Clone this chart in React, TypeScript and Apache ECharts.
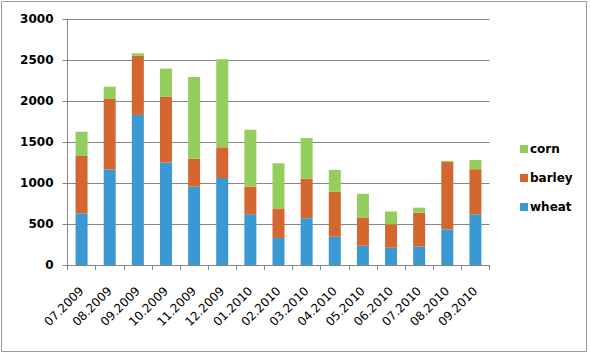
import React, { useEffect, useRef } from "react";
import * as echarts from "echarts";

const categories = [
  "07.2009", "08.2009", "09.2009", "10.2009", "11.2009", "12.2009",
  "01.2010", "02.2010", "03.2010", "04.2010", "05.2010", "06.2010",
  "07.2010", "08.2010", "09.2010",
];
const wheat = [630, 1165, 1830, 1250, 955, 1060, 620, 330, 570, 345, 235, 210, 225, 435, 618];
const barley = [700, 860, 720, 800, 340, 375, 335, 360, 485, 550, 345, 285, 413, 823, 550];
const corn = [295, 150, 32, 345, 997, 1073, 695, 550, 493, 265, 288, 158, 61, 12, 113];
const yTicks = { min: 0, max: 3000, interval: 500 };

const font = "'DejaVu Sans', Verdana, sans-serif";

export default function App() {
  const ref = useRef<HTMLDivElement>(null);
  useEffect(() => {
    if (!ref.current) return;
    const chart = echarts.init(ref.current, undefined, { renderer: "svg" });
    const seriesDef = [
      { name: "wheat", data: wheat, color: "#3A98D3" },
      { name: "barley", data: barley, color: "#D3672F" },
      { name: "corn", data: corn, color: "#93CD5B" },
    ];
    chart.setOption({
      animation: false,
      backgroundColor: "#ffffff",
      graphic: [
        {
          type: "rect",
          shape: { x: 1.5, y: 1.5, width: 585, height: 350 },
          style: { fill: "none", stroke: "#9a9a9a", lineWidth: 1 },
        },
      ],
      grid: { left: 67.5, right: 100.5, top: 19, bottom: 91 },
      legend: {
        data: ["corn", "barley", "wheat"],
        orient: "vertical",
        left: 515,
        top: 138,
        itemWidth: 8,
        itemHeight: 8,
        itemGap: 17,
        icon: "rect",
        textStyle: { fontFamily: font, fontWeight: "bold", fontSize: 12, color: "#000", padding: [0, 0, 0, -3] },
      },
      xAxis: {
        type: "category",
        data: categories,
        axisLine: { lineStyle: { color: "#868686" } },
        axisTick: { show: true, length: 5, lineStyle: { color: "#868686" } },
        axisLabel: {
          rotate: 45,
          interval: 0,
          fontFamily: font,
          fontSize: 12,
          color: "#000",
          margin: 24,
        },
      },
      yAxis: {
        type: "value",
        min: yTicks.min,
        max: yTicks.max,
        interval: yTicks.interval,
        axisLine: { show: true, lineStyle: { color: "#868686" } },
        axisTick: { show: true, length: 5, lineStyle: { color: "#868686" } },
        splitLine: { lineStyle: { color: "#868686" } },
        axisLabel: {
          fontFamily: font,
          fontWeight: "bold",
          fontSize: 12,
          color: "#000",
          margin: 14,
          formatter: (v: number) => String(v),
        },
      },
      series: seriesDef.map((s) => ({
        name: s.name,
        type: "bar",
        stack: "total",
        barWidth: 12,
        data: s.data,
        itemStyle: { color: s.color },
      })),
    });
    return () => chart.dispose();
  }, []);
  return <div ref={ref} style={{ width: 590, height: 356, position: "absolute", left: 0, top: 0 }} />;
}
